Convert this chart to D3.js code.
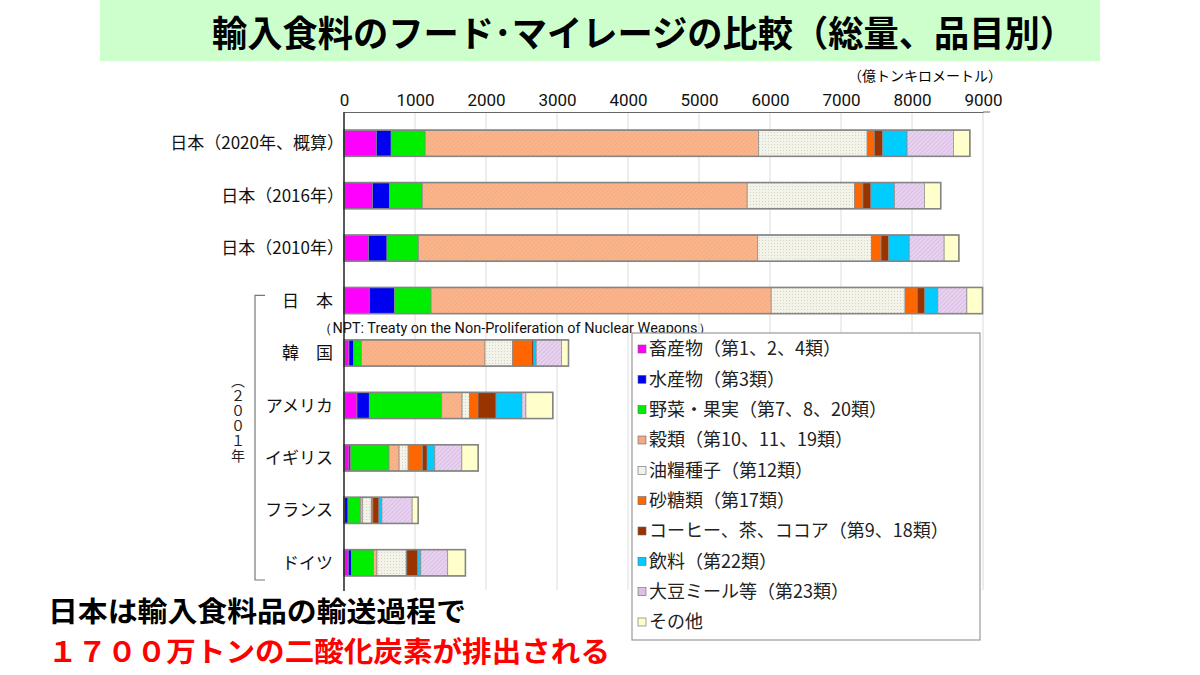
<!DOCTYPE html>
<html>
<head>
<meta charset="utf-8">
<script src="https://cdn.jsdelivr.net/npm/d3@7"></script>
<style>
  body { margin: 0; background: #fff; }
  svg { display: block; }
</style>
</head>
<body>
<script>
// rows, top to bottom
var rows = ["日本（2020年、概算）", "日本（2016年）", "日本（2010年）", "日　本", "韓　国", "アメリカ", "イギリス", "フランス", "ドイツ"];
var seriesNames = ["畜産物（第1、2、4類）", "水産物（第3類）", "野菜・果実（第7、8、20類）", "穀類（第10、11、19類）", "油糧種子（第12類）",
                   "砂糖類（第17類）", "コーヒー、茶、ココア（第9、18類）", "飲料（第22類）", "大豆ミール等（第23類）", "その他"];
// values in 億トンキロメートル
var livestock = [456, 403, 344, 356, 70, 183, 71, 10, 60];
var fish      = [208, 237, 261, 355, 66, 173, 23, 46, 43];
var vegFruit  = [480, 463, 444, 516, 108, 1021, 541, 174, 314];
var grains    = [4695, 4576, 4778, 4790, 1742, 286, 141, 28, 47];
var oilseeds  = [1529, 1511, 1600, 1885, 389, 103, 127, 126, 412];
var sugar     = [101, 119, 137, 172, 271, 122, 202, 23, 9];
var coffeeTea = [118, 112, 106, 106, 24, 253, 66, 85, 155];
var beverages = [344, 332, 291, 184, 37, 365, 108, 42, 42];
var soyMeal   = [652, 421, 492, 409, 356, 56, 381, 426, 379];
var other     = [232, 231, 207, 220, 99, 379, 230, 85, 249];
var ticks = [0, 1000, 2000, 3000, 4000, 5000, 6000, 7000, 8000, 9000];

var allSeries = [livestock, fish, vegFruit, grains, oilseeds, sugar, coffeeTea, beverages, soyMeal, other];
var fills = ["#ff00ff", "#0000f0", "#00ee00", "url(#pGrain)", "url(#pOil)", "#ff6600", "#993300", "#00ccff", "url(#pSoy)", "#ffffcc"];
var swatch = ["#ff00ff", "#0000f0", "#00ee00", "#f5a884", "#f2f2ea", "#ff6600", "#993300", "#00ccff", "#dcc0e4", "#ffffcc"];

var width = 1200, height = 675;
var svg = d3.select("body").append("svg").attr("width", width).attr("height", height);

// patterns for the textured segments
var defs = svg.append("defs");
function hatch(id, bg, line) {
    var p = defs.append("pattern").attr("id", id).attr("patternUnits", "userSpaceOnUse")
        .attr("width", 3).attr("height", 3).attr("patternTransform", "rotate(45)");
    p.append("rect").attr("width", 3).attr("height", 3).attr("fill", bg);
    p.append("line").attr("x1", 0).attr("y1", 0).attr("x2", 0).attr("y2", 3)
        .attr("stroke", line).attr("stroke-width", 0.8);
}
hatch("pGrain", "#fbb58c", "#ec9a6c");
hatch("pSoy", "#e8d2f0", "#c4a2d2");
var dots = defs.append("pattern").attr("id", "pOil").attr("patternUnits", "userSpaceOnUse").attr("width", 3).attr("height", 3);
dots.append("rect").attr("width", 3).attr("height", 3).attr("fill", "#f3f3ea");
dots.append("rect").attr("width", 1).attr("height", 1).attr("fill", "#d4d4c4");

// title bar
svg.append("rect").attr("x", 100).attr("y", 0).attr("width", 1000).attr("height", 61).attr("fill", "#ccffcc");
svg.append("text").attr("x", 212).attr("y", 47).attr("textLength", 863).attr("lengthAdjust", "spacingAndGlyphs")
    .style("font-family", "'Noto Sans CJK JP'").style("font-size", "36px").style("font-weight", "bold")
    .text("輸入食料のフード･マイレージの比較（総量、品目別）");

var x = d3.scaleLinear().domain([0, 9000]).range([344, 983]);
var y = d3.scaleBand().domain(rows).range([117, 589]).paddingInner(0.5).paddingOuter(0.25);

// unit label
svg.append("text").attr("x", 1002).attr("y", 81).attr("text-anchor", "end")
    .style("font-family", "'Noto Sans CJK JP'").style("font-size", "14px")
    .text("（億トンキロメートル）");

// grid lines
svg.append("g").selectAll("line").data(ticks.slice(1)).join("line")
    .attr("x1", function(d){ return x(d); }).attr("x2", function(d){ return x(d); })
    .attr("y1", 112).attr("y2", 590)
    .attr("stroke", "#dcdcdc").attr("stroke-width", 1);

// top axis
var axis = svg.append("g").attr("transform", "translate(0,112)")
    .call(d3.axisTop(x).tickValues(ticks).tickSize(0).tickPadding(6).tickFormat(d3.format("d")));
axis.select(".domain").attr("stroke", "#666");
axis.selectAll("text").style("font-family", "Roboto").style("font-size", "17px").attr("fill", "#111");
svg.append("line").attr("x1", x(9000)).attr("x2", 990).attr("y1", 112).attr("y2", 112).attr("stroke", "#666");

// stacked bars
var table = rows.map(function(r, i) {
    var o = { row: r };
    allSeries.forEach(function(s, k){ o["s" + k] = s[i]; });
    return o;
});
var keys = allSeries.map(function(s, k){ return "s" + k; });
var stacked = d3.stack().keys(keys)(table);

svg.append("g").selectAll("g").data(stacked).join("g")
    .attr("fill", function(d, k){ return fills[k]; })
    .selectAll("rect").data(function(d){ return d; }).join("rect")
    .attr("x", function(d){ return x(d[0]); })
    .attr("y", function(d){ return y(d.data.row); })
    .attr("width", function(d){ return x(d[1]) - x(d[0]); })
    .attr("height", y.bandwidth())
    .attr("stroke", "#8a8a8a").attr("stroke-width", 0.7);

// outline around each bar
svg.append("g").selectAll("rect").data(stacked[stacked.length - 1]).join("rect")
    .attr("x", x(0))
    .attr("y", function(d){ return y(d.data.row); })
    .attr("width", function(d){ return x(d[1]) - x(0); })
    .attr("height", y.bandwidth())
    .attr("fill", "none").attr("stroke", "#858585").attr("stroke-width", 1.6);

// vertical axis line
svg.append("line").attr("x1", x(0)).attr("x2", x(0)).attr("y1", 112).attr("y2", 591)
    .attr("stroke", "#222").attr("stroke-width", 1.5);

// row labels
svg.append("g").selectAll("text").data(rows).join("text")
    .attr("x", function(d, i){ return i < 3 ? 344 : 333; })
    .attr("y", function(d){ return y(d) + y.bandwidth() / 2; })
    .attr("dy", "0.36em").attr("text-anchor", "end")
    .style("font-family", "'Noto Sans CJK JP'").style("font-size", "17px").attr("fill", "#111")
    .text(function(d){ return d; });

// bracket for the 2001 group
svg.append("path")
    .attr("d", "M265," + (y(rows[3]) + 8) + "H255V" + 580 + "H265")
    .attr("fill", "none").attr("stroke", "#777").attr("stroke-width", 1.2);
svg.append("text").attr("x", 238).attr("y", 374)
    .style("writing-mode", "vertical-rl").style("letter-spacing", "1px")
    .style("font-family", "'Noto Sans CJK JP'").style("font-size", "14px").attr("fill", "#222")
    .text("（２００１年");

// NPT note
svg.append("text").attr("x", 318).attr("y", 333).attr("textLength", 394).attr("lengthAdjust", "spacingAndGlyphs")
    .style("font-family", "Roboto").style("font-size", "14px").attr("fill", "#111")
    .text("（NPT: Treaty on the Non-Proliferation of Nuclear Weapons）");

// legend
var legend = svg.append("g");
legend.append("rect").attr("x", 632).attr("y", 333).attr("width", 348).attr("height", 307)
    .attr("fill", "#fff").attr("stroke", "#999").attr("stroke-width", 1.2);
var ly = d3.scalePoint().domain(seriesNames).range([349, 622]);
var item = legend.selectAll("g").data(seriesNames).join("g")
    .attr("transform", function(d){ return "translate(638," + ly(d) + ")"; });
item.append("rect").attr("x", 0).attr("y", -4).attr("width", 8).attr("height", 8)
    .attr("fill", function(d, k){ return swatch[k]; }).attr("stroke", "#666").attr("stroke-width", 0.6);
item.append("text").attr("x", 11).attr("dy", "0.36em")
    .style("font-family", "'Noto Sans CJK JP'").style("font-size", "18px").attr("fill", "#222")
    .text(function(d){ return d; });

// bottom message
svg.append("text").attr("x", 48).attr("y", 622).attr("textLength", 418).attr("lengthAdjust", "spacingAndGlyphs")
    .style("font-family", "'Noto Sans CJK JP'").style("font-size", "28px").style("font-weight", "bold")
    .attr("fill", "#000").text("日本は輸入食料品の輸送過程で");
svg.append("text").attr("x", 48).attr("y", 662).attr("textLength", 562).attr("lengthAdjust", "spacingAndGlyphs")
    .style("font-family", "'Noto Sans CJK JP'").style("font-size", "28px").style("font-weight", "bold")
    .attr("fill", "#ff0000").text("１７００万トンの二酸化炭素が排出される");
</script>
</body>
</html>
